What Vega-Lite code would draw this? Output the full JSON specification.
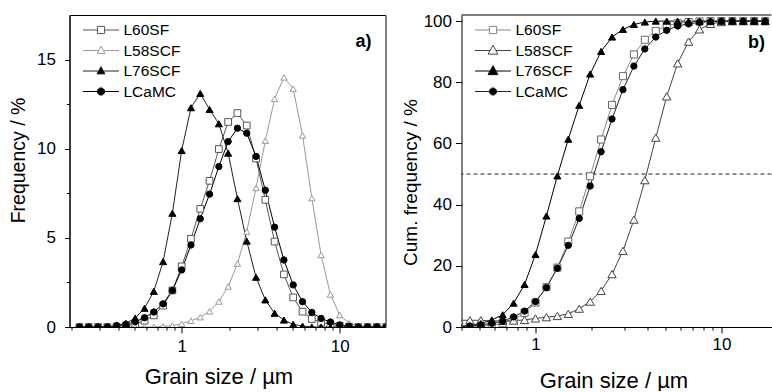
{
"$schema": "https://vega.github.io/schema/vega-lite/v6.json",
"background": "white",
"padding": {"left": 7.5, "top": 12, "right": 0, "bottom": 0},
"bounds": "flush",
"spacing": 76,
"config": {
  "font": "Liberation Sans",
  "view": {"stroke": "#000", "strokeWidth": 1},
  "axis": {"domainColor": "#000", "tickColor": "#000", "labelColor": "#000", "titleColor": "#000", "labelFont": "Liberation Sans", "titleFont": "Liberation Sans", "labelFontSize": 17, "titleFontWeight": "normal", "grid": false, "tickWidth": 1, "domainWidth": 1, "labelFlush": false, "labelOverlap": false, "labelBound": false},
  "legend": {"labelFont": "Liberation Sans", "labelFontSize": 15.5, "labelColor": "#000", "title": null}
},
"datasets": {
"freq": [
{"s":"L60SF","d":0.2254,"v":0},{"s":"L60SF","d":0.2581,"v":0},{"s":"L60SF","d":0.2955,"v":0},{"s":"L60SF","d":0.3384,"v":0},{"s":"L60SF","d":0.3875,"v":0.02},{"s":"L60SF","d":0.4437,"v":0.07},{"s":"L60SF","d":0.5081,"v":0.17},{"s":"L60SF","d":0.5818,"v":0.35},{"s":"L60SF","d":0.6662,"v":0.65},{"s":"L60SF","d":0.7629,"v":1.2},{"s":"L60SF","d":0.8733,"v":2.05},{"s":"L60SF","d":1,"v":3.4},{"s":"L60SF","d":1.1451,"v":4.95},{"s":"L60SF","d":1.3111,"v":6.63},{"s":"L60SF","d":1.5013,"v":8.2},{"s":"L60SF","d":1.7191,"v":9.98},{"s":"L60SF","d":1.9684,"v":11.5},{"s":"L60SF","d":2.2539,"v":12.0},{"s":"L60SF","d":2.5808,"v":11.3},{"s":"L60SF","d":2.9552,"v":9.45},{"s":"L60SF","d":3.3839,"v":7.13},{"s":"L60SF","d":3.8748,"v":4.79},{"s":"L60SF","d":4.4371,"v":2.95},{"s":"L60SF","d":5.0805,"v":1.66},{"s":"L60SF","d":5.8176,"v":0.86},{"s":"L60SF","d":6.6613,"v":0.45},{"s":"L60SF","d":7.6278,"v":0.25},{"s":"L60SF","d":8.7342,"v":0.15},{"s":"L60SF","d":10,"v":0.06},{"s":"L60SF","d":11.451,"v":0.02},{"s":"L60SF","d":13.111,"v":0},{"s":"L60SF","d":15.013,"v":0},{"s":"L60SF","d":17.191,"v":0},{"s":"L60SF","d":19.684,"v":0},
{"s":"L58SCF","d":0.2254,"v":0},{"s":"L58SCF","d":0.2581,"v":0},{"s":"L58SCF","d":0.2955,"v":0},{"s":"L58SCF","d":0.3384,"v":0},{"s":"L58SCF","d":0.3875,"v":0},{"s":"L58SCF","d":0.4437,"v":0},{"s":"L58SCF","d":0.5081,"v":0},{"s":"L58SCF","d":0.5818,"v":0},{"s":"L58SCF","d":0.6662,"v":0},{"s":"L58SCF","d":0.7629,"v":0.03},{"s":"L58SCF","d":0.8733,"v":0.08},{"s":"L58SCF","d":1,"v":0.18},{"s":"L58SCF","d":1.1451,"v":0.35},{"s":"L58SCF","d":1.3111,"v":0.55},{"s":"L58SCF","d":1.5013,"v":0.88},{"s":"L58SCF","d":1.7191,"v":1.43},{"s":"L58SCF","d":1.9684,"v":2.27},{"s":"L58SCF","d":2.2539,"v":3.56},{"s":"L58SCF","d":2.5808,"v":5.35},{"s":"L58SCF","d":2.9552,"v":7.8},{"s":"L58SCF","d":3.3839,"v":10.45},{"s":"L58SCF","d":3.8748,"v":12.8},{"s":"L58SCF","d":4.4371,"v":14.0},{"s":"L58SCF","d":5.0805,"v":13.37},{"s":"L58SCF","d":5.8176,"v":10.75},{"s":"L58SCF","d":6.6613,"v":7.23},{"s":"L58SCF","d":7.6278,"v":4.04},{"s":"L58SCF","d":8.7342,"v":1.83},{"s":"L58SCF","d":10,"v":0.67},{"s":"L58SCF","d":11.451,"v":0.22},{"s":"L58SCF","d":13.111,"v":0.05},{"s":"L58SCF","d":15.013,"v":0},{"s":"L58SCF","d":17.191,"v":0},{"s":"L58SCF","d":19.684,"v":0},
{"s":"L76SCF","d":0.2254,"v":0},{"s":"L76SCF","d":0.2581,"v":0},{"s":"L76SCF","d":0.2955,"v":0},{"s":"L76SCF","d":0.3384,"v":0},{"s":"L76SCF","d":0.3875,"v":0.08},{"s":"L76SCF","d":0.4437,"v":0.2},{"s":"L76SCF","d":0.5081,"v":0.5},{"s":"L76SCF","d":0.5818,"v":1.05},{"s":"L76SCF","d":0.6662,"v":2.0},{"s":"L76SCF","d":0.7629,"v":3.67},{"s":"L76SCF","d":0.8733,"v":6.38},{"s":"L76SCF","d":1,"v":9.9},{"s":"L76SCF","d":1.1451,"v":12.3},{"s":"L76SCF","d":1.3111,"v":13.1},{"s":"L76SCF","d":1.5013,"v":12.2},{"s":"L76SCF","d":1.7191,"v":11.4},{"s":"L76SCF","d":1.9684,"v":9.75},{"s":"L76SCF","d":2.2539,"v":7.2},{"s":"L76SCF","d":2.5808,"v":4.82},{"s":"L76SCF","d":2.9552,"v":2.79},{"s":"L76SCF","d":3.3839,"v":1.52},{"s":"L76SCF","d":3.8748,"v":0.77},{"s":"L76SCF","d":4.4371,"v":0.39},{"s":"L76SCF","d":5.0805,"v":0.15},{"s":"L76SCF","d":5.8176,"v":0.05},{"s":"L76SCF","d":6.6613,"v":0},{"s":"L76SCF","d":7.6278,"v":0},{"s":"L76SCF","d":8.7342,"v":0},{"s":"L76SCF","d":10,"v":0},{"s":"L76SCF","d":11.451,"v":0},{"s":"L76SCF","d":13.111,"v":0},{"s":"L76SCF","d":15.013,"v":0},{"s":"L76SCF","d":17.191,"v":0},{"s":"L76SCF","d":19.684,"v":0},
{"s":"LCaMC","d":0.2254,"v":0},{"s":"LCaMC","d":0.2581,"v":0},{"s":"LCaMC","d":0.2955,"v":0},{"s":"LCaMC","d":0.3384,"v":0},{"s":"LCaMC","d":0.3875,"v":0.08},{"s":"LCaMC","d":0.4437,"v":0.15},{"s":"LCaMC","d":0.5081,"v":0.3},{"s":"LCaMC","d":0.5818,"v":0.52},{"s":"LCaMC","d":0.6662,"v":0.84},{"s":"LCaMC","d":0.7629,"v":1.3},{"s":"LCaMC","d":0.8733,"v":2.05},{"s":"LCaMC","d":1,"v":3.2},{"s":"LCaMC","d":1.1451,"v":4.6},{"s":"LCaMC","d":1.3111,"v":6.07},{"s":"LCaMC","d":1.5013,"v":7.45},{"s":"LCaMC","d":1.7191,"v":9.0},{"s":"LCaMC","d":1.9684,"v":10.4},{"s":"LCaMC","d":2.2539,"v":11.15},{"s":"LCaMC","d":2.5808,"v":10.87},{"s":"LCaMC","d":2.9552,"v":9.57},{"s":"LCaMC","d":3.3839,"v":7.67},{"s":"LCaMC","d":3.8748,"v":5.6},{"s":"LCaMC","d":4.4371,"v":3.76},{"s":"LCaMC","d":5.0805,"v":2.36},{"s":"LCaMC","d":5.8176,"v":1.42},{"s":"LCaMC","d":6.6613,"v":0.82},{"s":"LCaMC","d":7.6278,"v":0.48},{"s":"LCaMC","d":8.7342,"v":0.28},{"s":"LCaMC","d":10,"v":0.12},{"s":"LCaMC","d":11.451,"v":0.04},{"s":"LCaMC","d":13.111,"v":0},{"s":"LCaMC","d":15.013,"v":0},{"s":"LCaMC","d":17.191,"v":0},{"s":"LCaMC","d":19.684,"v":0}
],
"cum": [
{"s":"L60SF","d":0.3875,"v":0.05},{"s":"L60SF","d":0.4437,"v":0.1},{"s":"L60SF","d":0.5081,"v":0.3},{"s":"L60SF","d":0.5818,"v":0.6},{"s":"L60SF","d":0.6662,"v":1.2},{"s":"L60SF","d":0.7629,"v":2.5},{"s":"L60SF","d":0.8733,"v":4.6},{"s":"L60SF","d":1,"v":8.0},{"s":"L60SF","d":1.1451,"v":13.0},{"s":"L60SF","d":1.3111,"v":19.4},{"s":"L60SF","d":1.5013,"v":27.9},{"s":"L60SF","d":1.7191,"v":37.8},{"s":"L60SF","d":1.9684,"v":49.3},{"s":"L60SF","d":2.2539,"v":61.3},{"s":"L60SF","d":2.5808,"v":72.6},{"s":"L60SF","d":2.9552,"v":82.0},{"s":"L60SF","d":3.3839,"v":89.1},{"s":"L60SF","d":3.8748,"v":93.9},{"s":"L60SF","d":4.4371,"v":96.8},{"s":"L60SF","d":5.0805,"v":98.5},{"s":"L60SF","d":5.8176,"v":99.3},{"s":"L60SF","d":6.6613,"v":99.7},{"s":"L60SF","d":7.6278,"v":99.9},{"s":"L60SF","d":8.7342,"v":100},{"s":"L60SF","d":10,"v":100},{"s":"L60SF","d":11.451,"v":100},{"s":"L60SF","d":13.111,"v":100},{"s":"L60SF","d":15.013,"v":100},{"s":"L60SF","d":17.191,"v":100},
{"s":"L58SCF","d":0.3875,"v":2.2},{"s":"L58SCF","d":0.4437,"v":2.2},{"s":"L58SCF","d":0.5081,"v":2.2},{"s":"L58SCF","d":0.5818,"v":2.0},{"s":"L58SCF","d":0.6662,"v":2.0},{"s":"L58SCF","d":0.7629,"v":2.1},{"s":"L58SCF","d":0.8733,"v":2.3},{"s":"L58SCF","d":1,"v":2.8},{"s":"L58SCF","d":1.1451,"v":3.2},{"s":"L58SCF","d":1.3111,"v":3.6},{"s":"L58SCF","d":1.5013,"v":4.3},{"s":"L58SCF","d":1.7191,"v":6.0},{"s":"L58SCF","d":1.9684,"v":8.3},{"s":"L58SCF","d":2.2539,"v":11.8},{"s":"L58SCF","d":2.5808,"v":17.3},{"s":"L58SCF","d":2.9552,"v":24.9},{"s":"L58SCF","d":3.3839,"v":35.1},{"s":"L58SCF","d":3.8748,"v":48.0},{"s":"L58SCF","d":4.4371,"v":61.9},{"s":"L58SCF","d":5.0805,"v":75.4},{"s":"L58SCF","d":5.8176,"v":86.2},{"s":"L58SCF","d":6.6613,"v":93.3},{"s":"L58SCF","d":7.6278,"v":97.3},{"s":"L58SCF","d":8.7342,"v":99.1},{"s":"L58SCF","d":10,"v":99.7},{"s":"L58SCF","d":11.451,"v":100},{"s":"L58SCF","d":13.111,"v":100},{"s":"L58SCF","d":15.013,"v":100},{"s":"L58SCF","d":17.191,"v":100},
{"s":"L76SCF","d":0.3875,"v":0.2},{"s":"L76SCF","d":0.4437,"v":0.5},{"s":"L76SCF","d":0.5081,"v":1.1},{"s":"L76SCF","d":0.5818,"v":2.3},{"s":"L76SCF","d":0.6662,"v":4.0},{"s":"L76SCF","d":0.7629,"v":7.8},{"s":"L76SCF","d":0.8733,"v":13.9},{"s":"L76SCF","d":1,"v":23.7},{"s":"L76SCF","d":1.1451,"v":36.3},{"s":"L76SCF","d":1.3111,"v":49.4},{"s":"L76SCF","d":1.5013,"v":61.4},{"s":"L76SCF","d":1.7191,"v":72.5},{"s":"L76SCF","d":1.9684,"v":82.7},{"s":"L76SCF","d":2.2539,"v":90.1},{"s":"L76SCF","d":2.5808,"v":94.8},{"s":"L76SCF","d":2.9552,"v":97.3},{"s":"L76SCF","d":3.3839,"v":98.9},{"s":"L76SCF","d":3.8748,"v":99.7},{"s":"L76SCF","d":4.4371,"v":100},{"s":"L76SCF","d":5.0805,"v":100},{"s":"L76SCF","d":5.8176,"v":100},{"s":"L76SCF","d":6.6613,"v":100},{"s":"L76SCF","d":7.6278,"v":100},{"s":"L76SCF","d":8.7342,"v":100},{"s":"L76SCF","d":10,"v":100},{"s":"L76SCF","d":11.451,"v":100},{"s":"L76SCF","d":13.111,"v":100},{"s":"L76SCF","d":15.013,"v":100},{"s":"L76SCF","d":17.191,"v":100},
{"s":"LCaMC","d":0.3875,"v":0.1},{"s":"LCaMC","d":0.4437,"v":0.3},{"s":"LCaMC","d":0.5081,"v":0.7},{"s":"LCaMC","d":0.5818,"v":1.2},{"s":"LCaMC","d":0.6662,"v":1.9},{"s":"LCaMC","d":0.7629,"v":3.3},{"s":"LCaMC","d":0.8733,"v":5.2},{"s":"LCaMC","d":1,"v":8.3},{"s":"LCaMC","d":1.1451,"v":12.9},{"s":"LCaMC","d":1.3111,"v":19.2},{"s":"LCaMC","d":1.5013,"v":26.7},{"s":"LCaMC","d":1.7191,"v":35.5},{"s":"LCaMC","d":1.9684,"v":46.1},{"s":"LCaMC","d":2.2539,"v":57.3},{"s":"LCaMC","d":2.5808,"v":68.0},{"s":"LCaMC","d":2.9552,"v":77.6},{"s":"LCaMC","d":3.3839,"v":85.3},{"s":"LCaMC","d":3.8748,"v":90.9},{"s":"LCaMC","d":4.4371,"v":94.8},{"s":"LCaMC","d":5.0805,"v":97.0},{"s":"LCaMC","d":5.8176,"v":98.4},{"s":"LCaMC","d":6.6613,"v":99.1},{"s":"LCaMC","d":7.6278,"v":99.6},{"s":"LCaMC","d":8.7342,"v":99.8},{"s":"LCaMC","d":10,"v":100},{"s":"LCaMC","d":11.451,"v":100},{"s":"LCaMC","d":13.111,"v":100},{"s":"LCaMC","d":15.013,"v":100},{"s":"LCaMC","d":17.191,"v":100}
]
},
"hconcat": [
{
  "width": 316, "height": 312,
  "title": {"text": "a)", "anchor": "end", "orient": "top", "offset": -50, "dx": -14, "fontSize": 18, "fontWeight": "bold", "baseline": "alphabetic", "color": "#000", "font": "Liberation Sans"},
  "layer": [
    {"data": {"name": "freq"}, "mark": {"type": "line", "strokeWidth": 1, "clip": true},
     "encoding": {
       "x": {"field": "d", "type": "quantitative", "scale": {"type": "log", "domain": [0.195, 19.5], "nice": false},
             "axis": {"values": [0.2,0.3,0.4,0.5,0.6,0.7,0.8,0.9,1,2,3,4,5,6,7,8,9,10],
                      "labelExpr": "datum.value == 1 ? '1' : datum.value == 10 ? '10' : ''",
                      "tickSize": {"condition": {"test": "datum.value == 1 || datum.value == 10", "value": 6}, "value": 3},
                      "labelPadding": 5,
                      "title": "Grain size / µm", "titleFontSize": 22, "titleX": 149, "titleY": 56, "titleBaseline": "alphabetic", "titleAlign": "center"}},
       "y": {"field": "v", "type": "quantitative", "scale": {"domain": [0, 17.5], "nice": false, "zero": false},
             "axis": {"values": [0,2.5,5,7.5,10,12.5,15],
                      "labelExpr": "datum.value % 5 == 0 ? format(datum.value, 'd') : ''",
                      "tickSize": {"condition": {"test": "datum.value % 5 == 0", "value": 5}, "value": 3},
                      "labelPadding": 9,
                      "title": "Frequency / %", "titleFontSize": 19.5, "titleX": -45, "titleY": 145, "titleBaseline": "alphabetic", "titleAlign": "center", "titleAngle": 270}},
       "color": {"field": "s", "type": "nominal",
                 "scale": {"domain": ["L60SF","L58SCF","L76SCF","LCaMC"], "range": ["#555555","#999999","#222222","#000000"]},
                 "legend": {"orient": "none", "legendX": 13, "legendY": 7, "symbolSize": 1296, "clipHeight": 16, "rowPadding": 3.5, "labelOffset": 4, "symbolStrokeWidth": 1,
                   "encode": {"symbols": {"update": {
                     "shape": {"signal": "datum.value === 'L60SF' ? 'M-1,0H-0.2M0.2,0H1M-0.2,-0.2H0.2V0.2H-0.2Z' : datum.value === 'LCaMC' ? 'M-1,0H-0.2M0.2,0H1M-0.2,0A0.2,0.2 0 1,0 0.2,0A0.2,0.2 0 1,0 -0.2,0Z' : 'M-1,0H-0.13M0.13,0H1M0,-0.24L0.22,0.16H-0.22Z'"},
                     "fill": {"signal": "datum.value === 'L76SCF' || datum.value === 'LCaMC' ? '#000' : '#fff'"}}}}}}
     }},
    {"data": {"name": "freq"}, "transform": [{"filter": "datum.s === 'L60SF'"}],
     "mark": {"type": "point", "shape": "square", "filled": true, "fill": "#fff", "stroke": "#555", "strokeWidth": 1, "size": 45, "opacity": 1, "clip": true},
     "encoding": {"x": {"field": "d", "type": "quantitative"}, "y": {"field": "v", "type": "quantitative"}}},
    {"data": {"name": "freq"}, "transform": [{"filter": "datum.s === 'L58SCF'"}],
     "mark": {"type": "point", "shape": "triangle-up", "filled": true, "fill": "#fff", "stroke": "#999", "strokeWidth": 1, "size": 40, "opacity": 1, "clip": true},
     "encoding": {"x": {"field": "d", "type": "quantitative"}, "y": {"field": "v", "type": "quantitative"}}},
    {"data": {"name": "freq"}, "transform": [{"filter": "datum.s === 'L76SCF'"}],
     "mark": {"type": "point", "shape": "triangle-up", "filled": true, "fill": "#000", "stroke": "#000", "strokeWidth": 1, "size": 50, "opacity": 1, "clip": true},
     "encoding": {"x": {"field": "d", "type": "quantitative"}, "y": {"field": "v", "type": "quantitative"}}},
    {"data": {"name": "freq"}, "transform": [{"filter": "datum.s === 'LCaMC'"}],
     "mark": {"type": "point", "shape": "circle", "filled": true, "fill": "#000", "stroke": "#000", "strokeWidth": 1, "size": 40, "opacity": 1, "clip": true},
     "encoding": {"x": {"field": "d", "type": "quantitative"}, "y": {"field": "v", "type": "quantitative"}}}
  ]
},
{
  "width": 310, "height": 312,
  "view": {"stroke": null},
  "title": {"text": "b)", "anchor": "end", "orient": "top", "offset": -54, "dx": -7, "fontSize": 18, "fontWeight": "bold", "baseline": "alphabetic", "color": "#000", "font": "Liberation Sans"},
  "layer": [
    {"data": {"values": [{}]}, "mark": {"type": "rule", "color": "#000", "strokeWidth": 1}, "encoding": {"y": {"datum": 102}}},
    {"data": {"values": [{}]}, "mark": {"type": "rule", "color": "#222", "strokeWidth": 1, "strokeDash": [4,3]}, "encoding": {"y": {"datum": 50}}},
    {"data": {"name": "cum"}, "mark": {"type": "line", "strokeWidth": 1, "clip": true},
     "encoding": {
       "x": {"field": "d", "type": "quantitative", "scale": {"type": "log", "domain": [0.4, 18.6], "nice": false},
             "axis": {"values": [0.4,0.5,0.6,0.7,0.8,0.9,1,2,3,4,5,6,7,8,9,10],
                      "labelExpr": "datum.value == 1 ? '1' : datum.value == 10 ? '10' : ''",
                      "tickSize": {"condition": {"test": "datum.value == 1 || datum.value == 10", "value": 6}, "value": 3},
                      "labelPadding": 3,
                      "title": "Grain size / µm", "titleFontSize": 22, "titleX": 152, "titleY": 60, "titleBaseline": "alphabetic", "titleAlign": "center"}},
       "y": {"field": "v", "type": "quantitative", "scale": {"domain": [0, 102], "nice": false, "zero": false},
             "axis": {"values": [0,10,20,30,40,50,60,70,80,90,100],
                      "labelExpr": "datum.value % 20 == 0 ? format(datum.value, 'd') : ''",
                      "tickSize": {"condition": {"test": "datum.value % 20 == 0", "value": 6}, "value": 3},
                      "labelPadding": 4,
                      "title": "Cum. frequency / %", "titleFontSize": 19, "titleX": -45, "titleY": 167, "titleBaseline": "alphabetic", "titleAlign": "center", "titleAngle": 270}},
       "color": {"field": "s", "type": "nominal",
                 "scale": {"domain": ["L60SF","L58SCF","L76SCF","LCaMC"], "range": ["#888888","#444444","#000000","#222222"]},
                 "legend": {"orient": "none", "legendX": 13, "legendY": 7, "symbolSize": 1296, "clipHeight": 16, "rowPadding": 3.5, "labelOffset": 4, "symbolStrokeWidth": 1,
                   "encode": {"symbols": {"update": {
                     "shape": {"signal": "datum.value === 'L60SF' ? 'M-1,0H-0.2M0.2,0H1M-0.2,-0.2H0.2V0.2H-0.2Z' : datum.value === 'LCaMC' ? 'M-1,0H-0.2M0.2,0H1M-0.2,0A0.2,0.2 0 1,0 0.2,0A0.2,0.2 0 1,0 -0.2,0Z' : 'M-1,0H-0.16M0.16,0H1M0,-0.29L0.27,0.2H-0.27Z'"},
                     "fill": {"signal": "datum.value === 'L76SCF' || datum.value === 'LCaMC' ? '#000' : '#fff'"}}}}}}
     }},
    {"data": {"name": "cum"}, "transform": [{"filter": "datum.s === 'L60SF'"}],
     "mark": {"type": "point", "shape": "square", "filled": true, "fill": "#fff", "stroke": "#666", "strokeWidth": 1, "size": 50, "opacity": 1, "clip": true},
     "encoding": {"x": {"field": "d", "type": "quantitative"}, "y": {"field": "v", "type": "quantitative"}}},
    {"data": {"name": "cum"}, "transform": [{"filter": "datum.s === 'L58SCF'"}],
     "mark": {"type": "point", "shape": "triangle-up", "filled": true, "fill": "#fff", "stroke": "#444", "strokeWidth": 1, "size": 70, "opacity": 1, "clip": true},
     "encoding": {"x": {"field": "d", "type": "quantitative"}, "y": {"field": "v", "type": "quantitative"}}},
    {"data": {"name": "cum"}, "transform": [{"filter": "datum.s === 'L76SCF'"}],
     "mark": {"type": "point", "shape": "triangle-up", "filled": true, "fill": "#000", "stroke": "#000", "strokeWidth": 1, "size": 50, "opacity": 1, "clip": true},
     "encoding": {"x": {"field": "d", "type": "quantitative"}, "y": {"field": "v", "type": "quantitative"}}},
    {"data": {"name": "cum"}, "transform": [{"filter": "datum.s === 'LCaMC'"}],
     "mark": {"type": "point", "shape": "circle", "filled": true, "fill": "#000", "stroke": "#000", "strokeWidth": 1, "size": 40, "opacity": 1, "clip": true},
     "encoding": {"x": {"field": "d", "type": "quantitative"}, "y": {"field": "v", "type": "quantitative"}}}
  ]
}
],
"resolve": {"scale": {"x": "independent", "y": "independent", "color": "independent"}, "legend": {"color": "independent"}}
}
